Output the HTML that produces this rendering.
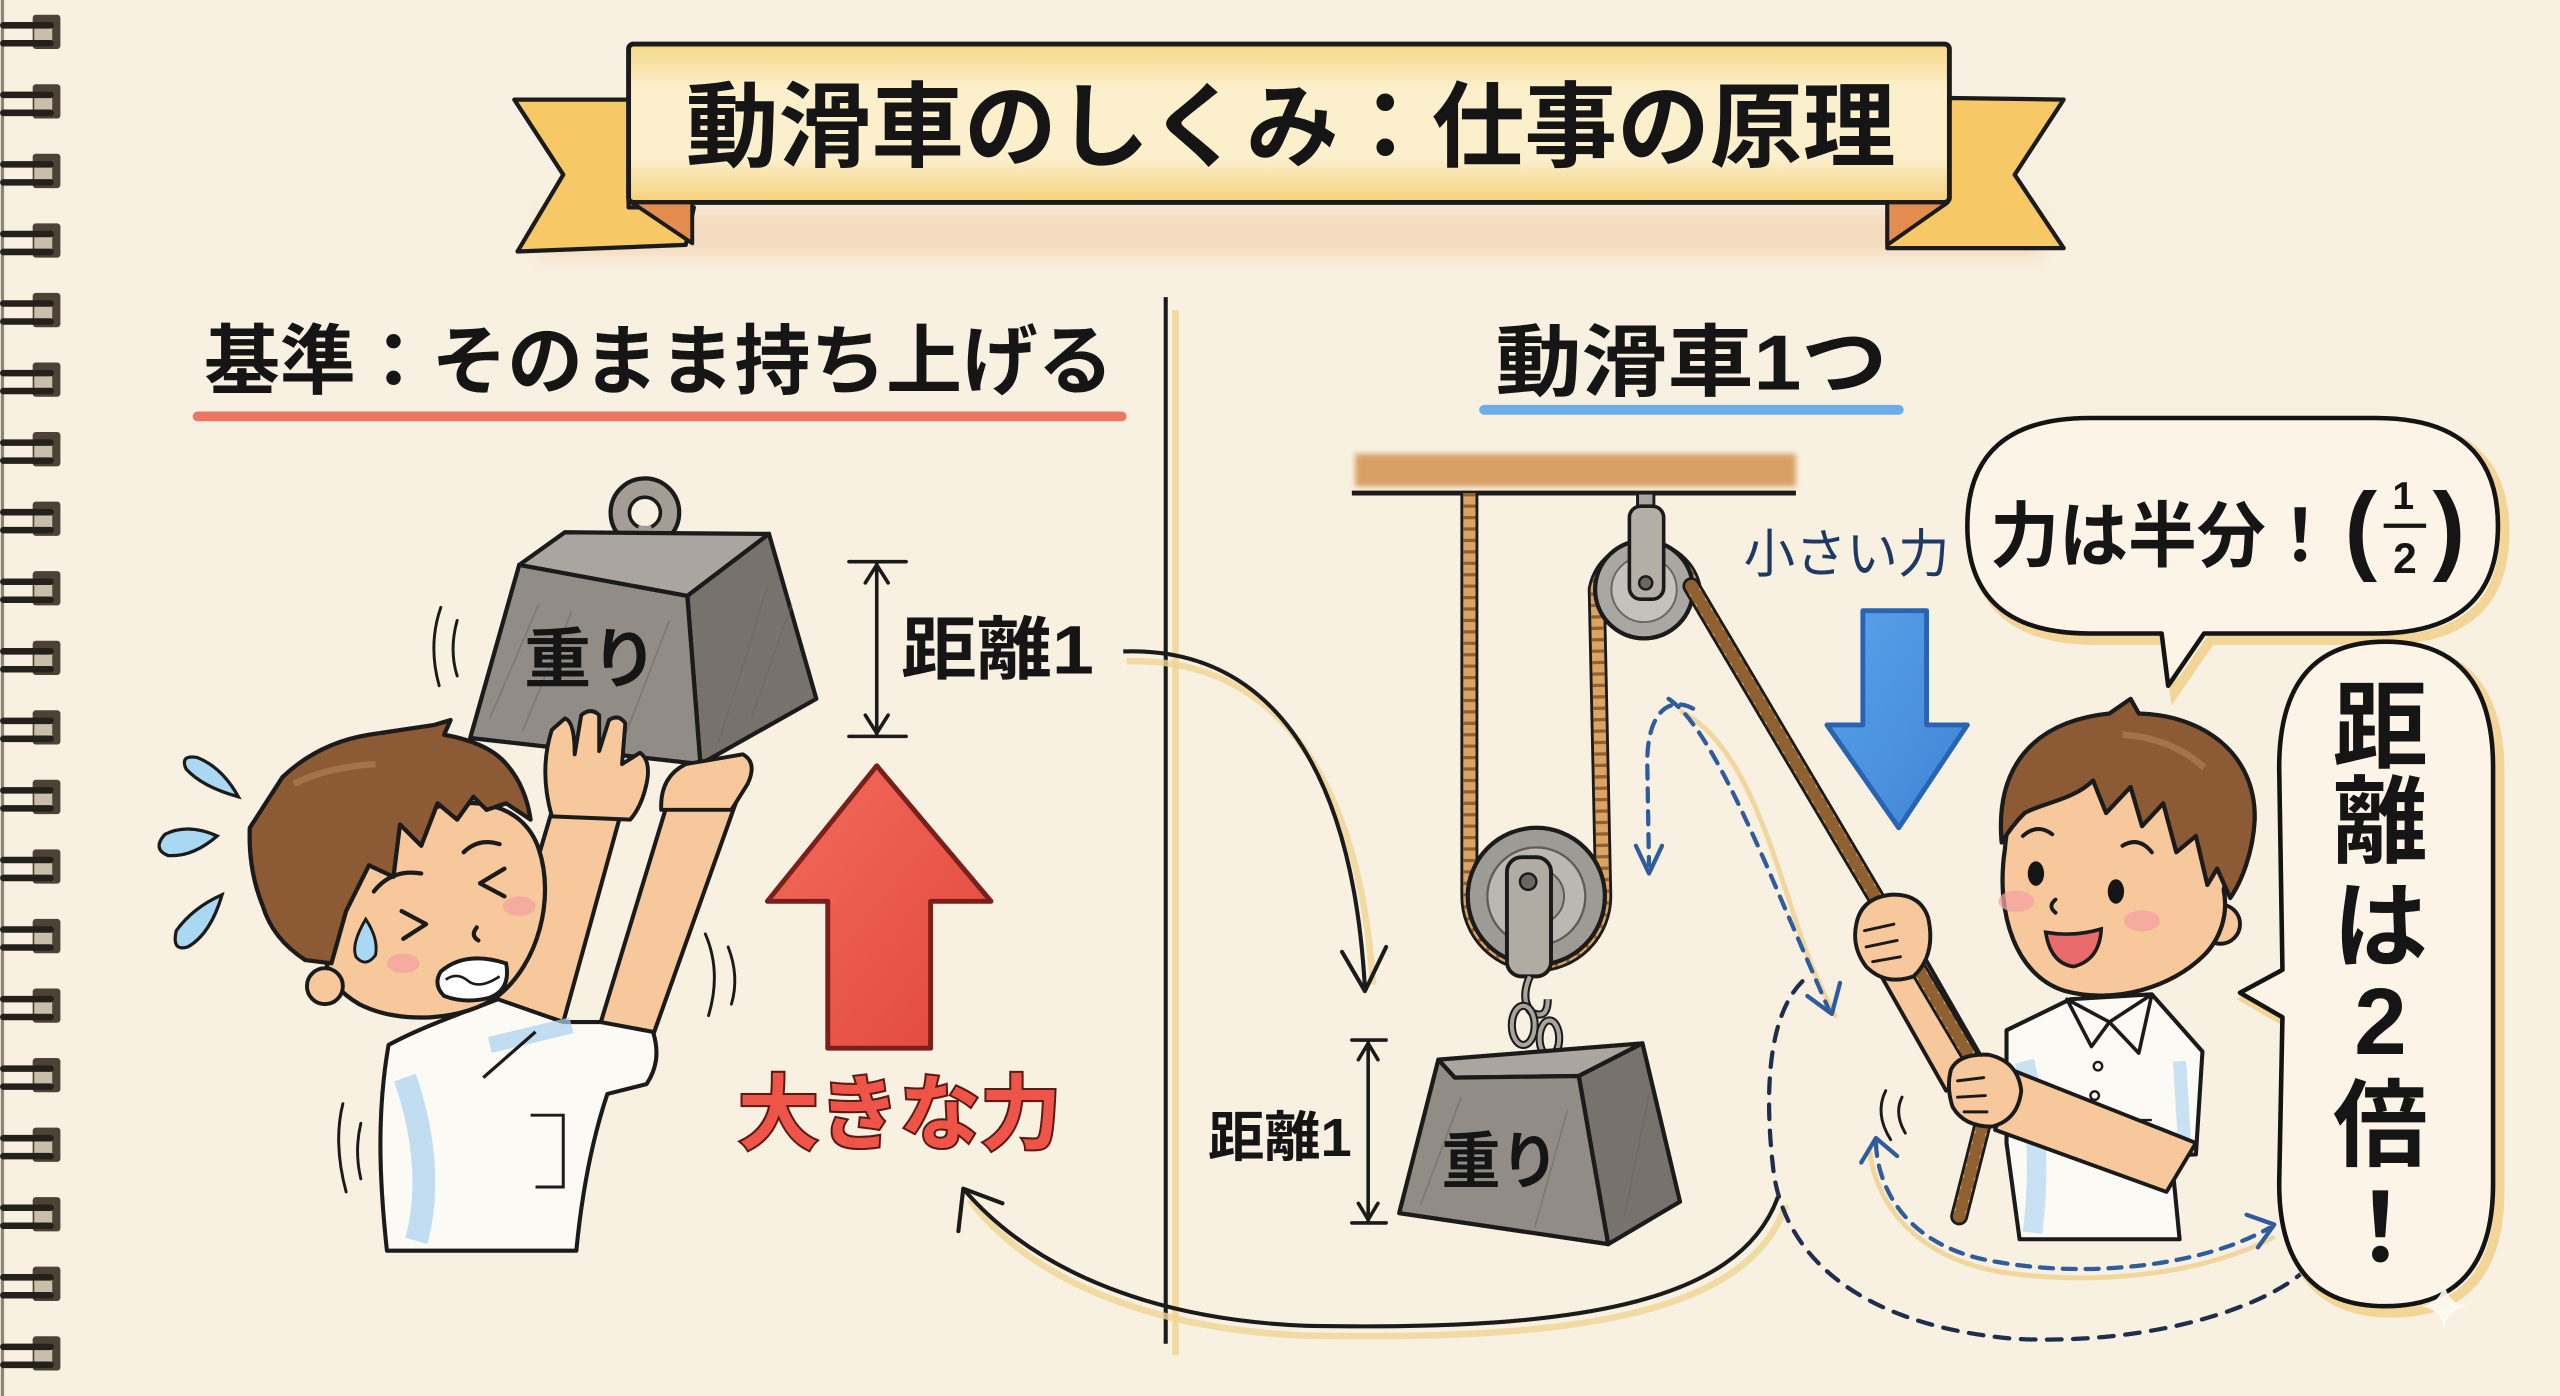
<!DOCTYPE html>
<html><head><meta charset="utf-8"><style>
html,body{margin:0;padding:0;background:#f8f0e0;overflow:hidden;}
svg{display:block}
text{font-family:"Liberation Sans","Noto Sans CJK JP",sans-serif;}
</style></head><body>
<svg width="2560" height="1396" viewBox="0 0 1568 855" preserveAspectRatio="none" xmlns="http://www.w3.org/2000/svg">
<defs>
 <filter id="blur6" x="-20%" y="-50%" width="140%" height="200%"><feGaussianBlur stdDeviation="5"/></filter>
 <filter id="blur2" x="-10%" y="-50%" width="120%" height="200%"><feGaussianBlur stdDeviation="1.6"/></filter>
 <linearGradient id="ban" x1="0" y1="0" x2="0" y2="1">
   <stop offset="0" stop-color="#f5d684"/><stop offset=".28" stop-color="#fcf0cc"/><stop offset=".72" stop-color="#fcf0cc"/><stop offset="1" stop-color="#f4cf78"/>
 </linearGradient>
 <linearGradient id="redg" x1="0" y1="0" x2="1" y2="1">
   <stop offset="0" stop-color="#f26b5c"/><stop offset="1" stop-color="#e2483d"/>
 </linearGradient>
 <linearGradient id="blueg" x1="0" y1="0" x2="1" y2="1">
   <stop offset="0" stop-color="#5aa2ea"/><stop offset="1" stop-color="#3f84d6"/>
 </linearGradient>
 <g id="ring">
   <rect x="20" y="0" width="17" height="21" rx="2" fill="#4d4236"/>
   <rect x="21" y="8" width="11" height="8" fill="#c9bfa8"/>
   <rect x="0" y="4.5" width="33" height="4" rx="2" fill="#24201c"/>
   <rect x="0" y="15.5" width="33" height="4" rx="2" fill="#24201c"/>
 </g>
</defs>

<rect x="0" y="0" width="1568" height="855" fill="#f8f0e0"/>
<line x1="1.5" y1="0" x2="1.5" y2="855" stroke="#8c8578" stroke-width="2"/>

<use href="#ring" y="9"/><use href="#ring" y="51.6"/><use href="#ring" y="94.2"/><use href="#ring" y="136.8"/>
<use href="#ring" y="179.4"/><use href="#ring" y="222"/><use href="#ring" y="264.6"/><use href="#ring" y="307.2"/>
<use href="#ring" y="349.8"/><use href="#ring" y="392.4"/><use href="#ring" y="435"/><use href="#ring" y="477.6"/>
<use href="#ring" y="520.2"/><use href="#ring" y="562.8"/><use href="#ring" y="605.4"/><use href="#ring" y="648"/>
<use href="#ring" y="690.6"/><use href="#ring" y="733.2"/><use href="#ring" y="775.8"/><use href="#ring" y="818.4"/>

<rect x="330" y="128" width="920" height="30" fill="#f0c49a" opacity=".45" filter="url(#blur6)"/>
<polygon points="315,61 385,61 385,127 425,127 420,150 317,154 345,107" fill="#f6c866" stroke="#1b1b1b" stroke-width="2.6" stroke-linejoin="round"/>
<polygon points="1194,60 1264,61 1234,107 1264,152 1156,152 1156,124" fill="#f6c866" stroke="#1b1b1b" stroke-width="2.6" stroke-linejoin="round"/>
<rect x="385" y="27" width="809" height="97" rx="3" fill="url(#ban)" stroke="#1b1b1b" stroke-width="3"/>
<polygon points="387,124 424,124 424,149" fill="#e28c4f" stroke="#1b1b1b" stroke-width="2.4" stroke-linejoin="round"/>
<polygon points="1156,124 1193,124 1156,150" fill="#e28c4f" stroke="#1b1b1b" stroke-width="2.4" stroke-linejoin="round"/>
<text x="420" y="78" font-size="57" font-weight="700" fill="#151515" dominant-baseline="central" textLength="741" lengthAdjust="spacingAndGlyphs">動滑車のしくみ：仕事の原理</text>

<line x1="720" y1="190" x2="720" y2="830" stroke="#f0d594" stroke-width="4" opacity=".85"/>
<line x1="714" y1="182" x2="714" y2="823" stroke="#1a1a1a" stroke-width="2.5"/>

<text x="125" y="222" font-size="47" font-weight="700" fill="#151515" dominant-baseline="central" textLength="557" lengthAdjust="spacingAndGlyphs">基準：そのまま持ち上げる</text>
<rect x="118" y="252" width="572" height="6" rx="3" fill="#ec7563"/>
<text x="916" y="222" font-size="48" font-weight="700" fill="#151515" dominant-baseline="central" textLength="240" lengthAdjust="spacingAndGlyphs">動滑車1つ</text>
<rect x="906" y="248" width="260" height="6" rx="3" fill="#6eaee8"/>

<g fill="none" stroke="#1b1b1b" stroke-width="1.8" stroke-linecap="round">
 <path d="M270,372 Q262,395 269,420"/><path d="M280,380 Q275,398 280,414"/>
 <path d="M432,572 Q442,595 434,622"/><path d="M446,580 Q453,598 448,615"/>
 <path d="M210,676 Q204,700 212,730"/><path d="M221,688 Q217,705 221,722"/>
</g>
<g fill="#a8d8f2" stroke="#1b1b1b" stroke-width="2">
 <path d="M146,488 Q124,482 114,471 Q110,462 121,464 Q136,470 146,488 Z"/>
 <path d="M133,512 Q115,504 101,511 Q93,520 103,524 Q118,525 133,512 Z"/>
 <path d="M136,548 Q118,556 108,570 Q105,583 115,580 Q129,572 136,548 Z"/>
</g>

<circle cx="395" cy="314" r="21" fill="#a39d95" stroke="#1b1b1b" stroke-width="2.6"/>
<circle cx="395" cy="314" r="9.5" fill="#f8f0e0" stroke="#1b1b1b" stroke-width="2.2"/>
<rect x="391" y="322" width="8" height="12" fill="#a39d95"/>
<polygon points="318,346 346,326 471,327 421,365" fill="#aaa59e" stroke="#1b1b1b" stroke-width="2.6" stroke-linejoin="round"/>
<polygon points="421,365 471,327 500,428 429,468" fill="#77726c" stroke="#1b1b1b" stroke-width="2.6" stroke-linejoin="round"/>
<polygon points="318,346 421,365 429,468 288,452" fill="#918c86" stroke="#1b1b1b" stroke-width="2.6" stroke-linejoin="round"/>
<g stroke="#6a655f" stroke-width="1" opacity=".5">
 <line x1="300" y1="440" x2="330" y2="370"/><line x1="320" y1="448" x2="350" y2="375"/><line x1="380" y1="458" x2="410" y2="380"/><line x1="440" y1="455" x2="470" y2="360"/><line x1="460" y1="440" x2="485" y2="370"/>
</g>
<text x="362" y="404" font-size="40" font-weight="700" fill="#151515" text-anchor="middle" dominant-baseline="central" textLength="82" lengthAdjust="spacingAndGlyphs">重り</text>

<g fill="#f6c89c" stroke="#1b1b1b" stroke-width="2.5" stroke-linejoin="round">
 <polygon points="340,490 382,492 345,626 304,612"/>
 <polygon points="410,488 452,488 400,634 368,626"/>
</g>
<path d="M238,640 C260,628 290,618 305,612 L345,626 L368,626 L400,632 C404,645 402,655 396,664 L372,670 C362,700 356,735 353,766 L237,766 C232,720 231,680 238,640 Z" fill="#fbfaf5" stroke="#1b1b1b" stroke-width="2.5" stroke-linejoin="round"/>
<path d="M248,660 C262,700 262,735 255,760" stroke="#a9d0f0" stroke-width="14" fill="none" opacity=".7"/>
<path d="M300,640 L350,628" stroke="#a9d0f0" stroke-width="10" fill="none" opacity=".7"/>
<path d="M325,683 L345,683 L345,727 L328,727" fill="none" stroke="#1b1b1b" stroke-width="1.8"/>
<path d="M296,660 L328,632" fill="none" stroke="#1b1b1b" stroke-width="2"/>
<path d="M200,590 C195,560 215,520 250,500 C285,485 320,490 330,520 C340,550 330,590 305,610 C285,625 245,628 220,615 C208,608 202,600 200,590 Z" fill="#f6c89c" stroke="#1b1b1b" stroke-width="2.6"/>
<path d="M153,507 L173,476 Q195,455 226,450 L266,444 L276,441 L272,450 Q300,455 311,469 Q322,482 325,502 L310,492 L298,496 L290,488 L280,502 L268,492 L258,518 L245,505 L241,537 L226,530 L212,558 L203,590 L187,588 Q167,575 161,555 Q152,533 153,507 Z" fill="#8c5a35" stroke="#1b1b1b" stroke-width="2.6" stroke-linejoin="round"/>
<path d="M180,480 Q200,470 230,468" stroke="#b3835c" stroke-width="4" fill="none" opacity=".6"/>
<circle cx="199" cy="604" r="11" fill="#f6c89c" stroke="#1b1b1b" stroke-width="2.4"/>
<g fill="none" stroke="#1b1b1b" stroke-width="2.6" stroke-linecap="round" stroke-linejoin="round">
 <path d="M309,532 L294,541 L309,549"/>
 <path d="M246,558 L261,566 L247,575"/>
 <path d="M229,546 Q240,532 258,535"/>
 <path d="M284,522 Q293,513 306,517"/>
 <path d="M292,568 Q288,573 293,576"/>
</g>
<path d="M270,595 Q285,582 310,590 Q313,606 300,611 Q285,615 272,610 Q265,603 270,595 Z" fill="#ffffff" stroke="#1b1b1b" stroke-width="2.4"/>
<path d="M273,600 Q280,595 287,601 Q294,606 306,598" fill="none" stroke="#1b1b1b" stroke-width="1.6"/>
<ellipse cx="318" cy="555" rx="10" ry="6" fill="#f4a3a0" opacity=".75"/>
<ellipse cx="247" cy="590" rx="10" ry="6" fill="#f4a3a0" opacity=".75"/>
<path d="M224,563 Q215,578 218,586 Q224,593 230,585 Q232,575 224,563 Z" fill="#a8d8f2" stroke="#1b1b1b" stroke-width="1.8"/>
<g fill="#f6c89c" stroke="#1b1b1b" stroke-width="2.4" stroke-linejoin="round">
 <path d="M338,500 Q330,472 338,447 L346,440 Q352,442 352,462 L356,438 Q362,433 367,438 L367,460 L373,441 Q379,437 383,443 L381,468 L392,461 Q399,466 396,480 Q393,494 386,502 Z"/>
 <path d="M405,496 Q404,476 420,468 L455,462 Q464,467 458,480 L448,496 Z"/>
</g>

<g stroke="#1b1b1b" stroke-width="2.2" fill="none" stroke-linecap="round">
 <line x1="537" y1="345" x2="537" y2="451"/>
 <line x1="520" y1="344" x2="555" y2="344"/><line x1="520" y1="451" x2="555" y2="451"/>
 <path d="M530,357 L537,346 L544,357"/><path d="M530,438 L537,449 L544,438"/>
</g>
<text x="552" y="398" font-size="42" font-weight="700" fill="#151515" dominant-baseline="central" textLength="118" lengthAdjust="spacingAndGlyphs">距離1</text>

<polygon points="537,469 607,552 570,552 570,642 507,642 507,552 470,552" fill="url(#redg)" stroke="#7a1f1a" stroke-width="3" stroke-linejoin="round"/>
<text x="452" y="683" font-size="50" font-weight="700" fill="#ee5448" stroke="#5c1a14" stroke-width="2.5" paint-order="stroke" dominant-baseline="central" textLength="198" lengthAdjust="spacingAndGlyphs">大きな力</text>

<path d="M690,405 C777,402 832,470 841,603" fill="none" stroke="#f0d594" stroke-width="4" opacity=".8"/>
<path d="M688,399 C775,396 828,465 836,605" fill="none" stroke="#1b1b1b" stroke-width="2.5"/>
<path d="M822,583 L836,607 L849,580" fill="none" stroke="#1b1b1b" stroke-width="2.5" stroke-linecap="round" stroke-linejoin="round"/>
<path d="M1094,738 C1070,806 962,821 800,818 C698,814 628,780 594,735" fill="none" stroke="#f0d594" stroke-width="4" opacity=".8"/>
<path d="M1089,733 C1065,800 960,815 800,812 C700,808 630,775 590,728" fill="none" stroke="#1b1b1b" stroke-width="2.5"/>
<path d="M614,737 L590,728 L587,754" fill="none" stroke="#1b1b1b" stroke-width="2.5" stroke-linecap="round" stroke-linejoin="round"/>

<rect x="830" y="278" width="270" height="20" fill="#d9a066" filter="url(#blur2)"/>
<line x1="828" y1="302" x2="1100" y2="302" stroke="#1b1b1b" stroke-width="3"/>

<g fill="none" stroke-linejoin="round">
 <path d="M900,302 L900,549 A41,41 0 0 0 982,549 L978,361 A30,30 0 0 1 1037,361" stroke="#1b1b1b" stroke-width="11"/>
 <path d="M900,302 L900,549 A41,41 0 0 0 982,549 L978,361 A30,30 0 0 1 1037,361" stroke="#dca463" stroke-width="7.5"/>
 <path d="M900,302 L900,549 A41,41 0 0 0 982,549 L978,361 A30,30 0 0 1 1037,361" stroke="#8f6030" stroke-width="7.5" stroke-dasharray="2 5"/>
</g>

<g fill="none" stroke-linecap="round">
 <path d="M1030,436 C1068,455 1085,520 1102,570 C1110,595 1118,610 1124,622" stroke="#f0d090" stroke-width="3" opacity=".8"/>
 <path d="M1037,434 C1020,425 1008,440 1009,470 L1010,530" stroke="#2e5c9c" stroke-width="2.6" stroke-dasharray="8 6"/>
 <path d="M1002,518 L1010,535 L1018,518" stroke="#2e5c9c" stroke-width="2.6" stroke-linejoin="round"/>
 <path d="M1022,428 C1040,440 1060,480 1082,530 C1097,565 1110,595 1120,618" stroke="#2e5c9c" stroke-width="2.6" stroke-dasharray="8 6"/>
 <path d="M1107,610 L1122,621 L1127,602" stroke="#2e5c9c" stroke-width="2.6" stroke-linejoin="round"/>
 <path d="M1104,601 C1080,625 1082,680 1086,715 C1092,770 1140,812 1234,820 C1320,824 1390,800 1414,776" stroke="#1d2f4d" stroke-width="2.6" stroke-dasharray="9 7"/>
 <path d="M1145,705 C1150,740 1175,770 1225,779 C1285,788 1350,780 1392,758" stroke="#f0d090" stroke-width="3" opacity=".8"/>
 <path d="M1149,700 C1150,730 1170,765 1224,773 C1280,783 1350,775 1390,752" stroke="#2e5c9c" stroke-width="2.6" stroke-dasharray="8 6"/>
 <path d="M1140,712 L1149,697 L1162,708" stroke="#2e5c9c" stroke-width="2.6" stroke-linejoin="round"/>
 <path d="M1376,744 L1393,750 L1383,764" stroke="#2e5c9c" stroke-width="2.6" stroke-linejoin="round"/>
</g>

<rect x="1003" y="302" width="10" height="12" fill="#a9a59e" stroke="#1b1b1b" stroke-width="1.8"/>
<circle cx="1007" cy="361" r="30" fill="#a9a7a2" stroke="#1b1b1b" stroke-width="2.6"/>
<circle cx="1007" cy="361" r="20" fill="#c4c2bd" stroke="#6a6660" stroke-width="1.2"/>
<rect x="998" y="310" width="21" height="57" rx="7" fill="#b3afa7" stroke="#1b1b1b" stroke-width="2.2"/>
<circle cx="1008" cy="357" r="4" fill="#6a6660" stroke="#1b1b1b" stroke-width="1.5"/>

<circle cx="941" cy="549" r="42" fill="#9d9b96" stroke="#1b1b1b" stroke-width="2.6"/>
<circle cx="941" cy="549" r="30" fill="#bab8b2" stroke="#5f5b55" stroke-width="1.4"/>
<circle cx="941" cy="549" r="17" fill="#a5a39d" stroke="#5f5b55" stroke-width="1.2"/>
<rect x="923" y="525" width="27" height="73" rx="9" fill="#b0aca4" stroke="#1b1b1b" stroke-width="2.4"/>
<circle cx="936" cy="540" r="5" fill="#6a6660" stroke="#1b1b1b" stroke-width="1.5"/>
<path d="M937,598 Q931,612 938,620 Q948,625 948,612" fill="none" stroke="#1b1b1b" stroke-width="5"/>
<path d="M937,598 Q931,612 938,620 Q948,625 948,612" fill="none" stroke="#a9a59e" stroke-width="2.5"/>
<ellipse cx="933" cy="628" rx="7" ry="12" fill="none" stroke="#1b1b1b" stroke-width="5"/>
<ellipse cx="933" cy="628" rx="7" ry="12" fill="none" stroke="#a9a59e" stroke-width="2.5"/>
<ellipse cx="949" cy="636" rx="6" ry="11" fill="none" stroke="#1b1b1b" stroke-width="5"/>
<ellipse cx="949" cy="636" rx="6" ry="11" fill="none" stroke="#a9a59e" stroke-width="2.5"/>

<polygon points="881,649 1006,639 967,659 891,660" fill="#aaa59e" stroke="#1b1b1b" stroke-width="2.6" stroke-linejoin="round"/>
<polygon points="967,659 1006,639 1029,736 985,762" fill="#77726c" stroke="#1b1b1b" stroke-width="2.6" stroke-linejoin="round"/>
<polygon points="881,649 891,660 967,659 985,762 857,743" fill="#918c86" stroke="#1b1b1b" stroke-width="2.6" stroke-linejoin="round"/>
<g stroke="#6a655f" stroke-width="1" opacity=".5">
 <line x1="870" y1="738" x2="895" y2="672"/><line x1="940" y1="752" x2="960" y2="680"/><line x1="995" y1="745" x2="1010" y2="670"/>
</g>
<text x="919" y="712" font-size="38" font-weight="700" fill="#151515" text-anchor="middle" dominant-baseline="central" textLength="72" lengthAdjust="spacingAndGlyphs">重り</text>

<g stroke="#1b1b1b" stroke-width="2.2" fill="none" stroke-linecap="round">
 <line x1="838" y1="638" x2="838" y2="749"/>
 <line x1="828" y1="637" x2="849" y2="637"/><line x1="828" y1="749" x2="849" y2="749"/>
 <path d="M832,649 L838,639 L844,649"/><path d="M832,737 L838,747 L844,737"/>
</g>
<text x="740" y="697" font-size="33" font-weight="700" fill="#151515" dominant-baseline="central" textLength="88" lengthAdjust="spacingAndGlyphs">距離1</text>

<text x="1068" y="340" font-size="32" fill="#1e3a64" dominant-baseline="central" textLength="126" lengthAdjust="spacingAndGlyphs">小さい力</text>
<polygon points="1141,374 1180,374 1180,444 1205,444 1163,507 1119,444 1141,444" fill="url(#blueg)" stroke="#2a64b0" stroke-width="3" stroke-linejoin="round"/>

<g fill="#f6c89c" stroke="#1b1b1b" stroke-width="2.4" stroke-linejoin="round">
 <polygon points="1145,585 1174,578 1214,648 1192,668"/>
</g>
<path d="M1229,631 L1268,612 L1318,609 L1349,644 L1345,707 L1330,708 L1335,759 L1237,759 L1229,700 Z" fill="#fbfaf5" stroke="#1b1b1b" stroke-width="2.5" stroke-linejoin="round"/>
<path d="M1240,650 C1250,690 1248,730 1245,755" stroke="#b2d6f2" stroke-width="12" fill="none" opacity=".7"/>
<path d="M1335,650 L1338,700" stroke="#b2d6f2" stroke-width="8" fill="none" opacity=".7"/>
<path d="M1266,612 L1281,641 L1292,626 Z M1318,609 L1292,626 L1310,645 Z" fill="#fbfaf5" stroke="#1b1b1b" stroke-width="2.2" stroke-linejoin="round"/>
<circle cx="1285" cy="653" r="2.6" fill="none" stroke="#1b1b1b" stroke-width="1.5"/>
<circle cx="1283" cy="671" r="2.6" fill="none" stroke="#1b1b1b" stroke-width="1.5"/>
<path d="M1300,686 L1318,686" stroke="#1b1b1b" stroke-width="1.5"/>
<polygon points="1345,700 1327,730 1222,692 1234,656" fill="#f6c89c" stroke="#1b1b1b" stroke-width="2.4" stroke-linejoin="round"/>
<g fill="none" stroke-linejoin="round" stroke-linecap="round">
 <path d="M1036,359 L1206,646 L1214,690 L1200,745" stroke="#1b1b1b" stroke-width="11"/>
 <path d="M1036,359 L1206,646 L1214,690 L1200,745" stroke="#dca463" stroke-width="7.5"/>
 <path d="M1036,359 L1206,646 L1214,690 L1200,745" stroke="#8f6030" stroke-width="7.5" stroke-dasharray="2 5"/>
</g>
<g fill="#f6c89c" stroke="#1b1b1b" stroke-width="2.4" stroke-linejoin="round">
 <path d="M1137,566 Q1140,550 1158,548 Q1176,547 1181,562 Q1186,585 1172,598 Q1155,604 1143,592 Q1134,580 1137,566 Z"/>
 <path d="M1195,655 Q1200,645 1218,646 Q1236,650 1238,668 Q1236,686 1220,690 Q1203,690 1196,678 Q1192,666 1195,655 Z"/>
</g>
<g fill="none" stroke="#1b1b1b" stroke-width="1.8" stroke-linecap="round">
 <path d="M1142,570 L1160,566"/><path d="M1143,580 L1162,576"/><path d="M1147,589 L1164,586"/>
 <path d="M1199,662 L1215,660"/><path d="M1199,672 L1216,671"/><path d="M1203,681 L1217,681"/>
 <path d="M1155,668 Q1148,682 1158,698"/><path d="M1165,672 Q1160,682 1167,694"/>
</g>
<circle cx="1360" cy="566" r="12" fill="#f6c89c" stroke="#1b1b1b" stroke-width="2.4"/>
<path d="M1228,520 C1222,560 1235,598 1265,607 C1295,615 1330,605 1350,585 C1360,575 1365,560 1362,545 L1372,500 C1370,470 1340,445 1300,442 C1260,440 1232,470 1228,520 Z" fill="#f6c89c" stroke="#1b1b1b" stroke-width="2.6"/>
<path d="M1226,516 C1222,470 1245,442 1292,437 L1305,428 L1310,437 C1350,438 1382,462 1381,502 C1380,522 1373,540 1366,550 L1358,532 L1352,542 L1345,512 L1333,522 L1325,492 L1312,506 L1305,482 L1290,498 L1282,478 C1270,490 1250,492 1240,498 C1233,505 1229,511 1226,516 Z" fill="#8c5a35" stroke="#1b1b1b" stroke-width="2.6" stroke-linejoin="round"/>
<path d="M1300,450 Q1330,452 1350,470" stroke="#b3835c" stroke-width="4" fill="none" opacity=".6"/>
<ellipse cx="1247" cy="535" rx="5" ry="7.5" fill="#151515"/>
<ellipse cx="1296" cy="546" rx="5" ry="7.5" fill="#151515"/>
<g fill="none" stroke="#1b1b1b" stroke-width="2.4" stroke-linecap="round">
 <path d="M1239,512 Q1248,504 1257,511"/><path d="M1300,518 Q1310,512 1318,522"/>
 <path d="M1259,551 Q1254,555 1259,559"/>
</g>
<path d="M1253,571 Q1270,574 1287,569 Q1286,588 1270,592 Q1256,590 1253,571 Z" fill="#e86a6a" stroke="#1b1b1b" stroke-width="2.2"/>
<ellipse cx="1235" cy="552" rx="11" ry="6.5" fill="#f4a3a0" opacity=".75"/>
<ellipse cx="1312" cy="564" rx="11" ry="6.5" fill="#f4a3a0" opacity=".75"/>

<path d="M1284,260 L1459,260 Q1534,260 1534,326 Q1534,392 1459,392 L1354,392 L1332,424 L1328,392 L1284,392 Q1209,392 1209,326 Q1209,260 1284,260 Z" fill="none" stroke="#f2d08a" stroke-width="6" opacity=".85"/>
<path d="M1280,256 L1455,256 Q1530,256 1530,322 Q1530,388 1455,388 L1350,388 L1328,420 L1324,388 L1280,388 Q1205,388 1205,322 Q1205,256 1280,256 Z" fill="#fcf5e7" stroke="#141414" stroke-width="2.8" stroke-linejoin="round"/>
<text x="1219" y="329" font-size="44" font-weight="700" fill="#151515" dominant-baseline="central" textLength="211" lengthAdjust="spacingAndGlyphs">力は半分！</text>
<text x="1436" y="344" font-size="60" font-weight="700" fill="#151515">(</text>
<text x="1490" y="344" font-size="60" font-weight="700" fill="#151515">)</text>
<text x="1472" y="304" font-size="24" font-weight="700" fill="#151515" text-anchor="middle" dominant-baseline="central">1</text>
<line x1="1460" y1="322" x2="1486" y2="322" stroke="#151515" stroke-width="2.6"/>
<text x="1473" y="342" font-size="26" font-weight="700" fill="#151515" text-anchor="middle" dominant-baseline="central">2</text>

<path d="M1465,397 Q1531,397 1531,474 L1531,729 Q1531,804 1465,804 Q1400,804 1400,729 L1402,627 L1376,612 L1402,598 L1400,474 Q1400,397 1465,397 Z" fill="none" stroke="#f2d08a" stroke-width="6" opacity=".85"/>
<path d="M1461,393 Q1527,393 1527,470 L1527,725 Q1527,800 1461,800 Q1396,800 1396,725 L1398,623 L1372,608 L1398,594 L1396,470 Q1396,393 1461,393 Z" fill="#fcf5e7" stroke="#141414" stroke-width="2.8" stroke-linejoin="round"/>
<g font-size="58" font-weight="700" fill="#151515" text-anchor="middle" dominant-baseline="central">
 <text x="1458" y="446">距</text>
 <text x="1458" y="504">離</text>
 <text x="1458" y="568">は</text>
 <text x="1458" y="626">2</text>
 <text x="1458" y="690">倍</text>
 <text x="1458" y="753">！</text>
</g>

<path d="M1497,786 Q1499,798 1511,800 Q1499,802 1497,814 Q1495,802 1483,800 Q1495,798 1497,786 Z" fill="#fdfbf5" opacity=".9"/>
</svg>
</body></html>
